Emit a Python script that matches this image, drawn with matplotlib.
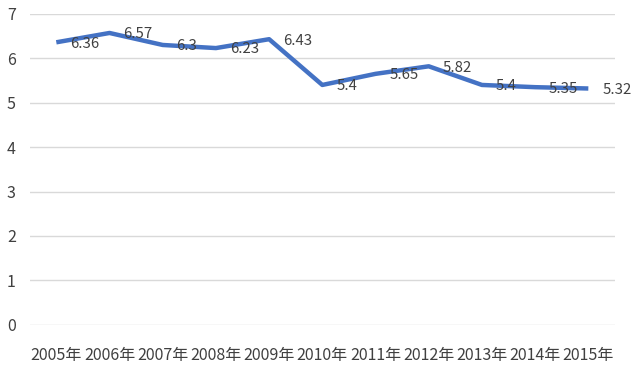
import matplotlib
matplotlib.use('Agg')
import matplotlib.pyplot as plt

# --- data ---
years = ['2005年', '2006年', '2007年', '2008年', '2009年', '2010年',
         '2011年', '2012年', '2013年', '2014年', '2015年']
values = [6.36, 6.57, 6.3, 6.23, 6.43, 5.4, 5.65, 5.82, 5.4, 5.35, 5.32]
value_labels = ['6.36', '6.57', '6.3', '6.23', '6.43', '5.4', '5.65', '5.82', '5.4', '5.35', '5.32']
y_ticks = [0, 1, 2, 3, 4, 5, 6, 7]

plt.rcParams['font.family'] = ['Noto Sans CJK SC', 'DejaVu Sans']

fig = plt.figure(figsize=(6.32, 3.65), dpi=100)
ax = fig.add_axes([0.047, 0.11, 0.926, 0.852])

x = list(range(len(years)))
ax.plot(x, values, color='#4472C4', linewidth=3.2, solid_capstyle='butt', zorder=3)

for xi, v, lab in zip(x, values, value_labels):
    ax.annotate(lab, (xi, v), xytext=(10, -1), textcoords='offset points',
                ha='left', va='center', fontsize=10.8, color='#404040', zorder=4)

ax.set_xlim(-0.5, len(years) - 0.5)
ax.set_ylim(0, 7)
ax.set_yticks(y_ticks)
ax.set_xticks(x)
ax.set_xticklabels(years)
ax.grid(axis='y', color='#D9D9D9', linewidth=1)
ax.set_axisbelow(True)
for s in ax.spines.values():
    s.set_visible(False)
ax.tick_params(axis='both', length=0, labelsize=11.5, colors='#404040')
ax.tick_params(axis='y', pad=10)
ax.tick_params(axis='x', pad=16)

fig.savefig('out.png', dpi=100)
